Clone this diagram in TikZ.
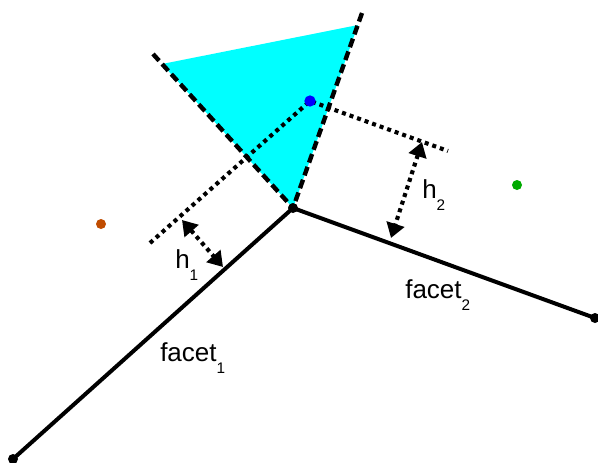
\documentclass[tikz,border=0pt]{standalone}
\usepackage{fontspec}
\setmainfont{Liberation Sans}
\usetikzlibrary{arrows.meta}
\newcommand{\lowsub}[1]{\raisebox{-9pt}{\fontsize{11.5pt}{11.5pt}\selectfont #1}}
\definecolor{sitecyan}{RGB}{0,255,255}
\definecolor{siteblue}{RGB}{0,0,255}
\definecolor{siteorange}{RGB}{192,76,0}
\definecolor{sitegreen}{RGB}{0,170,0}
\begin{document}
\begin{tikzpicture}[
  x=0.75pt,y=-0.75pt,
  line join=round,
  facet/.style={line width=3pt},
  bisect/.style={line width=3.3pt,dash pattern=on 6.8pt off 3.4pt},
  offset/.style={line width=3.1pt,dash pattern=on 3pt off 3pt},
  height/.style={offset,{Triangle[length=11pt,width=13.5pt]}-{Triangle[length=11pt,width=13.5pt]}},
  lbl/.style={font=\fontsize{19.5pt}{20pt}\selectfont,inner sep=0pt,anchor=base west},
  dot/.style={circle,inner sep=0pt,minimum size=#1}
]
  \useasboundingbox (0,0) rectangle (598,462);

  % Points of the construction
  \coordinate (V) at (293,208);
  \coordinate (E1) at (13,459);
  \coordinate (E2) at (595,318);
  \coordinate (P) at (310,101);
  \coordinate (T1) at (162,64);
  \coordinate (T2) at (358,25);
  \coordinate (B1) at (153,54);
  \coordinate (B2) at (362,13);
  \coordinate (Q1) at (150,243);
  \coordinate (Q2) at (448,151);
  \coordinate (A1) at (182,220);
  \coordinate (F1) at (223,267);
  \coordinate (A2) at (422,142);
  \coordinate (F2) at (391,238);

  % Cell region
  \fill[sitecyan] (T1) -- (T2) -- (V) -- cycle;

  % Shifted facets
  \draw[offset] (Q1) -- (P) -- (Q2);

  % Bisectors
  \draw[bisect] (B1) -- (V);
  \draw[bisect] (B2) -- (V);

  % Facets
  \draw[facet] (E1) -- (V) -- (E2);

  % Heights
  \draw[height] (A1) -- (F1);
  \draw[height] (A2) -- (F2);

  % Dots
  \node[dot=7.5pt,fill=black] (v) at (V) {};
  \node[dot=7.5pt,fill=black] (e1) at (E1) {};
  \node[dot=7.5pt,fill=black] (e2) at (E2) {};
  \node[dot=8.5pt,fill=siteblue] (p) at (P) {};
  \node[dot=7.5pt,fill=siteorange] (s1) at (101,224) {};
  \node[dot=7.5pt,fill=sitegreen] (s2) at (517,185) {};

  % Labels
  \node[lbl] (h1) at (175,268) {h\lowsub{1}};
  \node[lbl] (h2) at (422,198) {h\lowsub{2}};
  \node[lbl] (f1) at (160,361) {facet\lowsub{1}};
  \node[lbl] (f2) at (405,298) {facet\lowsub{2}};
\end{tikzpicture}
\end{document}
